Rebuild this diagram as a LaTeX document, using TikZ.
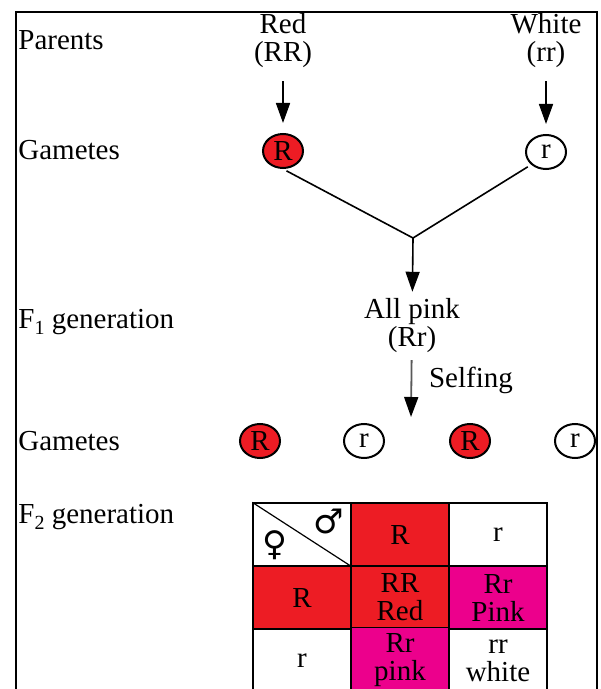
\documentclass[tikz,border=0pt]{standalone}
\usepackage{fontspec}
\setmainfont{Liberation Serif}
\newfontfamily\symfont{DejaVu Sans}
\usetikzlibrary{positioning,shapes.geometric,arrows.meta}
\definecolor{allelered}{HTML}{ED1C24}
\definecolor{hybridpink}{HTML}{EC008C}

\begin{document}
\begin{tikzpicture}[x=0.5pt, y=-0.5pt, font=\fontsize{14.5}{14}\selectfont,
		arrow/.style={line width=0.8pt,-{Triangle[length=10pt,width=7pt]}},
		gamete/.style={ellipse,draw,line width=1pt,inner sep=0pt,minimum width=20pt,minimum height=17pt},
		cell/.style={rectangle,draw,line width=0.6pt,align=center,minimum width=49pt,minimum height=31.5pt}]
		\useasboundingbox (0,0) rectangle (600,689);
		\draw[line width=1pt] (16,12) rectangle (597,720);
		% row labels
		\begin{scope}[every node/.style={anchor=west,inner sep=0pt}]
			\node (parents) at (18,40) {Parents};
			\node (gam1) at (18,150) {Gametes};
			\node (f1) at (18,322) {F\raisebox{-0.45ex}{\fontsize{10}{10}\selectfont 1} generation};
			\node (gam2) at (18,441) {Gametes};
			\node (f2) at (18,517) {F\raisebox{-0.45ex}{\fontsize{10}{10}\selectfont 2} generation};
		\end{scope}
		% parents and first gametes
		\begin{scope}[every node/.style={align=center}]
			\node (red) at (283,41) {Red\\(RR)};
			\node (white) at (546,41) {White\\(rr)};
			\node (pink) at (412,326) {All pink\\(Rr)};
		\end{scope}
		\node[gamete,fill=allelered] (gR) at (283,151) {R};
		\node[gamete] (gr) at (546,152) {r};
		\draw[arrow,shorten <=3pt,shorten >=5pt] (red) -- (gR);
		\draw[arrow,shorten <=3pt,shorten >=5pt] (white) -- (gr);
		\coordinate (join) at (413,238);
		\draw[line width=0.8pt,shorten <=2pt] (gR.south) -- (join);
		\draw[line width=0.8pt,shorten <=2pt] (gr.south west) -- (join);
		\draw[arrow] (join) -- (pink);
		% selfing
		\coordinate (selfend) at (411,417);
		\draw[line width=0.9pt,draw=black!65,-{Triangle[length=10pt,width=7pt,color=black]}] (pink) -- (selfend);
		\node (selfing) at (471,380) {Selfing};
		% F1 gametes
		\node[gamete,fill=allelered] (g2a) at (260,441) {R};
		\node[gamete] (g2b) at (364,441) {r};
		\node[gamete,fill=allelered] (g2c) at (470,441) {R};
		\node[gamete] (g2d) at (575,441) {r};
		% Punnett square
		\begin{scope}[every node/.style={cell}]
			\node (c11) at (302,534.5) {};
			\node[fill=allelered] (c12) at (400,534.5) {R};
			\node[fill=white] (c13) at (498,534.5) {r};
			\node[fill=allelered] (c21) at (302,597.5) {R};
			\node[fill=allelered] (c22) at (400,597.5) {RR\\Red};
			\node[fill=hybridpink] (c23) at (498,597.5) {Rr\\Pink};
			\node[fill=white] (c31) at (302,660.5) {r};
			\node[fill=hybridpink] (c32) at (400,660.5) {Rr\\pink};
			\node[fill=white] (c33) at (498,660.5) {rr\\white};
		\end{scope}
		\draw[line width=0.6pt] (c11.north west) -- (c11.south east);
		\node[font=\symfont\fontsize{17}{17}\selectfont] (female) at (275,545) {♀};
		\node[font=\symfont\fontsize{17}{17}\selectfont] (male) at (329,521) {♂};
	\end{tikzpicture}
\end{document}
